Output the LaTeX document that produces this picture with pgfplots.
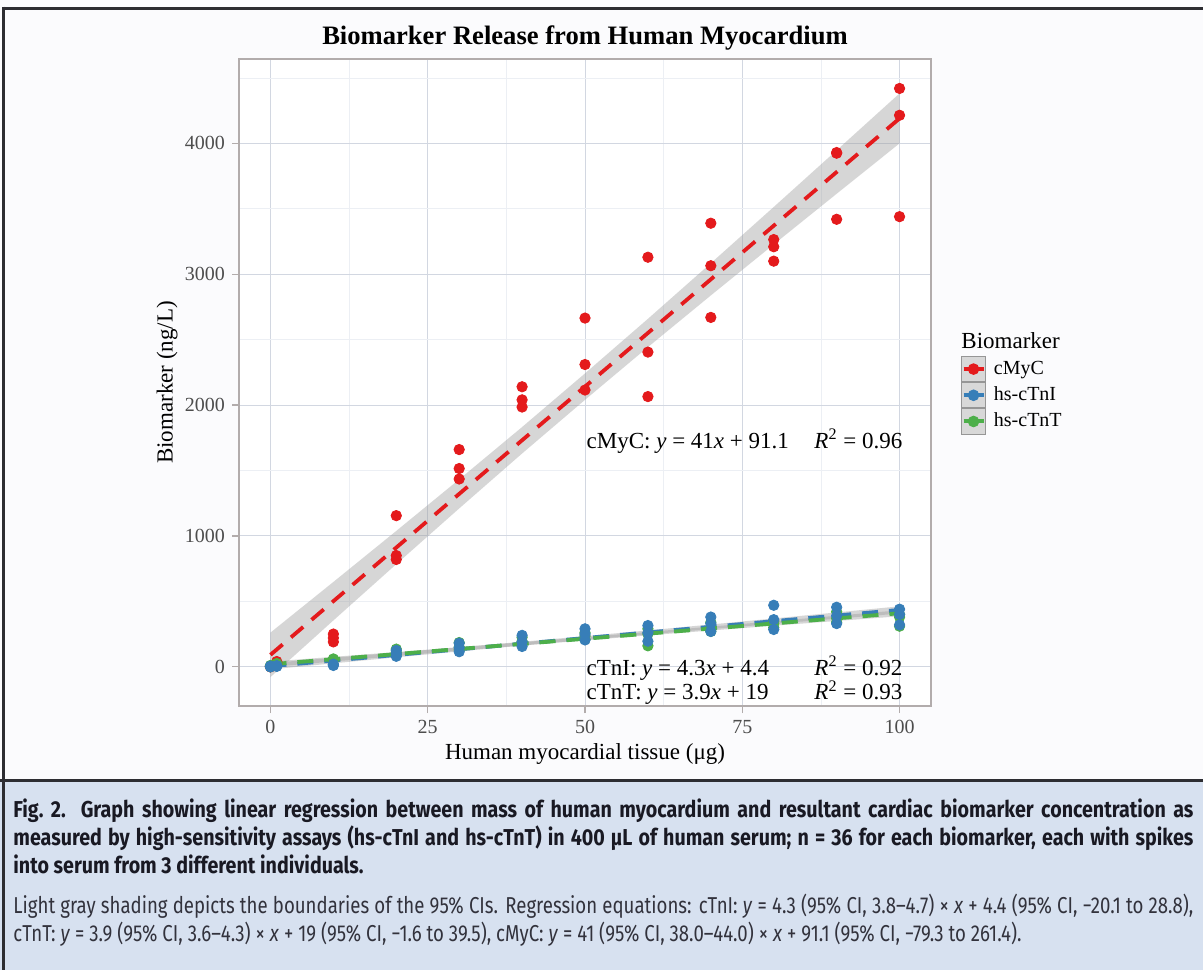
\documentclass[border=0pt]{standalone}
\usepackage{fontspec}
\setmainfont{Liberation Serif}
\newfontfamily\capreg[FakeStretch=0.81]{Fira Sans}
\newfontfamily\capbold[FakeStretch=0.855]{Fira Sans}
\usepackage{pgfplots}
\pgfplotsset{compat=1.18}
\usepackage{pgfplotstable}

\definecolor{cred}{RGB}{228,26,28}
\definecolor{cblue}{RGB}{55,126,184}
\definecolor{cgreen}{RGB}{77,175,74}
\definecolor{gridmaj}{RGB}{210,215,225}
\definecolor{gridmin}{RGB}{236,239,244}
\definecolor{panelborder}{RGB}{178,172,172}
\definecolor{ticklab}{RGB}{77,77,77}
\definecolor{bandgray}{RGB}{153,153,153}
\definecolor{keyfill}{RGB}{216,216,216}
\definecolor{keyborder}{RGB}{150,150,150}
\definecolor{figbg}{RGB}{251,251,253}
\definecolor{capbg}{RGB}{215,225,240}
\definecolor{framec}{RGB}{45,45,50}
\definecolor{captxt}{RGB}{25,25,35}
\definecolor{capreg}{RGB}{50,50,60}

% cMyC, three spikes per mass
\pgfplotstableread{
x y
0 0
0 0
0 0
1 30
1 20
1 40
10 250
10 220
10 190
20 1155
20 850
20 820
30 1660
30 1515
30 1435
40 2140
40 2040
40 1985
50 2665
50 2310
50 2115
60 3130
60 2405
60 2065
70 3390
70 3065
70 2670
80 3265
80 3210
80 3100
90 3930
90 3925
90 3420
100 4420
100 4215
100 3440
}\cmyc

% hs-cTnI
\pgfplotstableread{
x y
0 0
0 5
0 0
1 5
1 8
1 3
10 15
10 20
10 10
20 125
20 100
20 80
30 180
30 145
30 115
40 240
40 190
40 155
50 290
50 250
50 205
60 315
60 260
60 195
70 380
70 330
70 270
80 470
80 360
80 285
90 455
90 390
90 330
100 440
100 400
100 320
}\ctni

% hs-cTnT
\pgfplotstableread{
x y
0 0
0 10
0 5
1 20
1 25
1 15
10 60
10 55
10 50
20 135
20 110
20 95
30 185
30 150
30 130
40 225
40 195
40 170
50 260
50 235
50 210
60 290
60 250
60 160
70 340
70 300
70 270
80 350
80 330
80 300
90 420
90 370
90 340
100 400
100 380
100 310
}\ctnt

\pgfplotsset{
  mykey/.style={legend image code/.code={
    \fill[keyfill, draw=keyborder, line width=0.5pt] (0pt,-6.3pt) rectangle (12pt,6.3pt);
    \draw[#1, line width=2pt] (1pt,0pt) -- (11pt,0pt);
    \fill[#1] (6pt,0pt) circle (2.7pt);
    \path (14pt,0pt);
  }},
}

\begin{document}
\begin{tikzpicture}
\useasboundingbox (0pt,0pt) rectangle (601.5pt,-485pt);
\fill[figbg] (0pt,0pt) rectangle (601.5pt,-390pt);

\begin{axis}[
  at={(119.5pt,-353pt)}, anchor=south west,
  width=346pt, height=323.5pt, scale only axis,
  xmin=-5, xmax=105, ymin=-300, ymax=4645,
  xtick={0,25,50,75,100}, minor xtick={12.5,37.5,62.5,87.5},
  ytick={0,1000,2000,3000,4000}, minor ytick={500,1500,2500,3500,4500},
  grid=both,
  major grid style={color=gridmaj, line width=0.5pt},
  minor grid style={color=gridmin, line width=0.4pt},
  axis line style={color=panelborder, line width=0.6pt},
  tick style={color=panelborder, line width=0.6pt},
  tick align=outside, tick pos=left,
  major tick length=3.5pt, minor tick length=0pt,
  ticklabel style={font=\fontsize{10}{12}\selectfont, color=ticklab},
  /pgf/number format/assume math mode=true,
  /pgf/number format/1000 sep={},
  axis background/.style={fill=white},
  legend style={at={(1.0434,0.541)}, anchor=north west, draw=none, fill=none,
    inner sep=0pt, outer sep=0pt, row sep=0pt,
    font=\fontsize{10}{11}\selectfont},
  legend cell align=left,
]
% points
\addplot[only marks, mark=*, mark size=2.6pt, color=cred, mark options={draw=cred, fill=cred}, forget plot] table[x=x,y=y]{\cmyc};
\addplot[only marks, mark=*, mark size=2.6pt, color=cgreen, mark options={draw=cgreen, fill=cgreen}, forget plot] table[x=x,y=y]{\ctnt};
\addplot[only marks, mark=*, mark size=2.6pt, color=cblue, mark options={draw=cblue, fill=cblue}, forget plot] table[x=x,y=y]{\ctni};

% 95% confidence bands (lower edge out, upper edge back)
\addplot[fill=bandgray, fill opacity=0.4, draw=none, forget plot] coordinates {
 (0,-78.9) (10,354.1) (20,784.1) (30,1210.1) (40,1630.1) (50,2040.1) (60,2443.1) (70,2838.1) (80,3228.1) (90,3615.1) (100,4000.1)
 (100,4382.1) (90,3947.1) (80,3514.1) (70,3084.1) (60,2659.1) (50,2242.1) (40,1832.1) (30,1432.1) (20,1038.1) (10,648.1) (0,261.1)
} -- cycle;
\addplot[fill=bandgray, fill opacity=0.4, draw=none, forget plot] coordinates {
 (0,-20.1) (10,26.2) (20,72.1) (30,117.4) (40,161.8) (50,204.8) (60,246.8) (70,287.7) (80,327.8) (90,367.5) (100,406.9)
 (100,461.9) (90,415.3) (80,369.0) (70,323.1) (60,278.0) (50,234.0) (40,191.0) (30,149.4) (20,108.7) (10,68.6) (0,28.9)
} -- cycle;
\addplot[fill=bandgray, fill opacity=0.4, draw=none, forget plot] coordinates {
 (0,-1.5) (10,40.3) (20,81.7) (30,122.6) (40,162.8) (50,201.8) (60,240.0) (70,277.2) (80,313.8) (90,350.0) (100,386.0)
 (100,432.0) (90,390.0) (80,348.2) (70,306.8) (60,266.0) (50,226.2) (40,187.2) (30,149.4) (20,112.3) (10,75.7) (0,39.5)
} -- cycle;

% fitted lines
\addplot[cred, line width=1.9pt, dash pattern=on 8pt off 5.5pt, forget plot] coordinates {(0,91.1) (100,4191.1)};
\addplot[cblue, line width=1.9pt, dash pattern=on 8pt off 5.5pt, forget plot] coordinates {(0,4.4) (100,434.4)};
\addplot[cgreen, line width=1.9pt, dash pattern=on 8pt off 5.5pt, forget plot] coordinates {(0,19) (100,409)};

\addlegendimage{mykey=cred}
\addlegendentry{cMyC}
\addlegendimage{mykey=cblue}
\addlegendentry{hs-cTnI}
\addlegendimage{mykey=cgreen}
\addlegendentry{hs-cTnT}

% regression annotations
\node[anchor=base west, inner sep=0pt, font=\fontsize{11.5}{13}\selectfont] at (axis cs:50.2,1669) {cMyC: \textit{y} = 41\textit{x} + 91.1};
\node[anchor=base east, inner sep=0pt, font=\fontsize{11.5}{13}\selectfont] at (axis cs:100.5,1669) {\textit{R}\textsuperscript{2} = 0.96};
\node[anchor=base west, inner sep=0pt, font=\fontsize{11.5}{13}\selectfont] at (axis cs:50.2,-63) {cTnI: \textit{y} = 4.3\textit{x} + 4.4};
\node[anchor=base east, inner sep=0pt, font=\fontsize{11.5}{13}\selectfont] at (axis cs:100.5,-63) {\textit{R}\textsuperscript{2} = 0.92};
\node[anchor=base west, inner sep=0pt, font=\fontsize{11.5}{13}\selectfont] at (axis cs:50.2,-254) {cTnT: \textit{y} = 3.9\textit{x} + 19};
\node[anchor=base east, inner sep=0pt, font=\fontsize{11.5}{13}\selectfont] at (axis cs:100.5,-254) {\textit{R}\textsuperscript{2} = 0.93};
\end{axis}

% titles and labels
\node[anchor=base, font=\fontsize{13.3}{15}\selectfont\bfseries] at (292.5pt,-22pt) {Biomarker Release from Human Myocardium};
\node[anchor=base, font=\fontsize{11.5}{13}\selectfont] at (292.5pt,-379.5pt) {Human myocardial tissue (μg)};
\node[anchor=center, rotate=90, font=\fontsize{11.5}{13}\selectfont] at (83.5pt,-191.25pt) {Biomarker (ng/L)};
\node[anchor=base west, inner sep=0pt, font=\fontsize{11.5}{13}\selectfont] at (480.5pt,-174pt) {Biomarker};

% frame and caption box
\fill[capbg] (0pt,-390pt) rectangle (601.5pt,-485pt);
\draw[framec, line width=1.5pt] (0pt,-390pt) -- (601.5pt,-390pt);
\draw[framec, line width=1.5pt] (1pt,-4pt) -- (601.5pt,-4pt);
\draw[framec, line width=1.5pt] (1.5pt,-3.25pt) -- (1.5pt,-485pt);

\node[anchor=base west, inner sep=0pt, color=captxt, font=\capbold\bfseries\fontsize{11.5}{14}\selectfont] at (6.5pt,-408.5pt)
  {\spaceskip=0.25em plus 0.4em minus 0.12em\hbox to 590pt{Fig.~2.\ \ Graph showing linear regression between mass of human myocardium and resultant cardiac biomarker concentration as}};
\node[anchor=base west, inner sep=0pt, color=captxt, font=\capbold\bfseries\fontsize{11.5}{14}\selectfont] at (6.5pt,-422.5pt)
  {\spaceskip=0.25em plus 0.4em minus 0.12em\hbox to 590pt{measured by high-sensitivity assays (hs-cTnI and hs-cTnT) in 400 μL of human serum; n = 36 for each biomarker, each with spikes}};
\node[anchor=base west, inner sep=0pt, color=captxt, font=\capbold\bfseries\fontsize{11.5}{14}\selectfont] at (6.5pt,-436.5pt)
  {into serum from 3 different individuals.};
\node[anchor=base west, inner sep=0pt, color=capreg, font=\capreg\fontsize{11.5}{14}\selectfont] at (6.5pt,-456.5pt)
  {\spaceskip=0.25em plus 0.4em minus 0.12em\hbox to 590pt{Light gray shading depicts the boundaries of the 95\% CIs. Regression equations: cTnI: \textit{y} = 4.3 (95\% CI, 3.8–4.7) × \textit{x} + 4.4 (95\% CI, −20.1 to 28.8),}};
\node[anchor=base west, inner sep=0pt, color=capreg, font=\capreg\fontsize{11.5}{14}\selectfont] at (6.5pt,-470.5pt)
  {cTnT: \textit{y} = 3.9 (95\% CI, 3.6–4.3) × \textit{x} + 19 (95\% CI, −1.6 to 39.5), cMyC: \textit{y} = 41 (95\% CI, 38.0–44.0) × \textit{x} + 91.1 (95\% CI, −79.3 to 261.4).};
\end{tikzpicture}
\end{document}
